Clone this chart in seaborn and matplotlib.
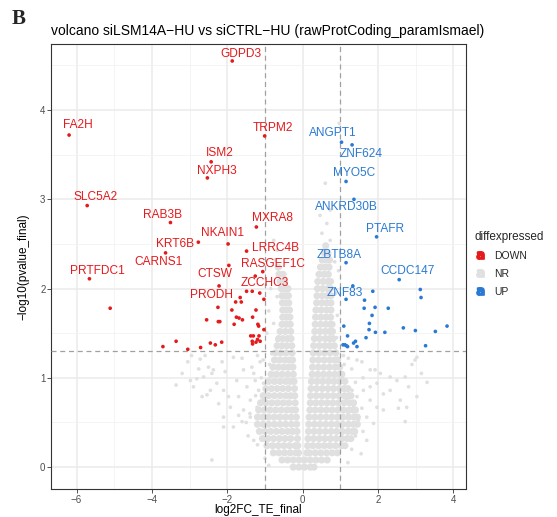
import numpy as np
import pandas as pd
import matplotlib
matplotlib.use("Agg")
import matplotlib.pyplot as plt
import seaborn as sns
from matplotlib.lines import Line2D

# ---------------- data ----------------
down_genes = ["GDPD3", "FA2H", "TRPM2", "ISM2", "NXPH3", "SLC5A2", "RAB3B", "MXRA8",
              "NKAIN1", "KRT6B", "CARNS1", "PRTFDC1", "CTSW", "PRODH", "LRRC4B",
              "RASGEF1C", "ZCCHC3"]
down_gene_x = [-1.87, -6.20, -1.01, -2.43, -2.53, -5.72, -3.51, -1.23, -1.98, -2.77,
               -3.64, -5.66, -1.96, -2.22, -1.49, -1.06, -1.26]
down_gene_y = [4.55, 3.72, 3.71, 3.42, 3.24, 2.93, 2.74, 2.69, 2.50, 2.52, 2.40, 2.11,
               2.26, 2.03, 2.42, 2.19, 2.14]

down_other_x = [-5.11, -1.49, -1.34, -1.14, -1.03, -1.66, -1.78, -1.63, -2.25, -1.88,
                -1.24, -1.76, -1.69, -1.60, -1.33, -2.55, -2.24, -2.20, -1.82, -1.19,
                -1.17, -1.03, -1.38, -1.31, -1.16, -1.20, -1.34, -1.33, -1.24, -1.13,
                -3.36, -3.71, -3.05, -2.71, -2.45, -2.32, -2.15]
down_other_y = [1.78, 1.97, 1.97, 1.95, 1.88, 1.90, 1.85, 1.85, 1.79, 1.76,
                1.76, 1.68, 1.67, 1.65, 1.68, 1.65, 1.63, 1.63, 1.60, 1.60,
                1.58, 1.54, 1.47, 1.47, 1.47, 1.43, 1.41, 1.38, 1.40, 1.41,
                1.41, 1.35, 1.32, 1.34, 1.39, 1.37, 1.40]

up_genes = ["ANGPT1", "ZNF624", "MYO5C", "ANKRD30B", "PTAFR", "ZBTB8A", "CCDC147", "ZNF83"]
up_gene_x = [1.03, 1.31, 1.15, 1.36, 1.96, 1.15, 2.56, 1.15]
up_gene_y = [3.64, 3.61, 3.20, 3.00, 2.58, 2.29, 2.10, 1.88]

up_other_x = [1.33, 1.86, 3.12, 1.64, 3.14, 1.63, 1.92, 2.27, 1.84, 1.09, 1.77, 1.76,
              1.93, 2.18, 2.67, 2.99, 3.52, 3.83, 1.19, 1.68, 1.40, 1.35, 1.44, 1.07,
              1.12, 1.16, 1.19, 3.26]
up_other_y = [2.03, 1.97, 1.99, 1.87, 1.90, 1.78, 1.79, 1.78, 1.70, 1.58, 1.61, 1.54,
              1.51, 1.51, 1.56, 1.53, 1.52, 1.58, 1.47, 1.45, 1.41, 1.39, 1.35, 1.37,
              1.37, 1.36, 1.35, 1.36]

# dense NR core of the volcano (rows of y with estimated x positions)
nr_core_rows = [
    (0.00, [-0.25, -0.10, 0.05, 0.20, 0.30]),
    (0.08, [-0.55, -0.40, -0.25, -0.10, 0.05, 0.20, 0.35, 0.50, 0.65]),
    (0.16, [-0.78, -0.63, -0.48, -0.33, -0.18, -0.11, 0.11, 0.18, 0.33, 0.48, 0.63, 0.78, 0.92]),
    (0.24, [-0.95, -0.80, -0.65, -0.50, -0.35, -0.20, -0.13, 0.13, 0.27, 0.42, 0.57, 0.72, 0.87, 1.02, 1.12]),
    (0.32, [-1.07, -0.92, -0.77, -0.62, -0.47, -0.32, -0.14, 0.14, 0.29, 0.44, 0.59, 0.74, 0.89, 1.04, 1.18, 1.28]),
    (0.40, [-1.15, -1.00, -0.85, -0.70, -0.55, -0.40, -0.27, -0.15, 0.15, 0.30, 0.45, 0.60, 0.75, 0.90, 1.05, 1.20, 1.32, 1.38]),
    (0.48, [-1.20, -1.05, -0.90, -0.75, -0.60, -0.45, -0.30, -0.16, 0.16, 0.31, 0.46, 0.61, 0.76, 0.91, 1.06, 1.21, 1.35, 1.45]),
    (0.56, [-1.20, -1.06, -0.91, -0.76, -0.61, -0.46, -0.31, -0.17, 0.17, 0.32, 0.47, 0.62, 0.77, 0.92, 1.07, 1.22, 1.36, 1.45]),
    (0.64, [-1.17, -1.02, -0.87, -0.72, -0.57, -0.42, -0.29, -0.19, 0.19, 0.33, 0.48, 0.63, 0.78, 0.93, 1.08, 1.23, 1.35, 1.40]),
    (0.72, [-1.12, -0.97, -0.82, -0.67, -0.52, -0.37, -0.20, 0.20, 0.35, 0.50, 0.65, 0.80, 0.95, 1.10, 1.25, 1.35]),
    (0.80, [-1.05, -0.90, -0.75, -0.60, -0.45, -0.32, -0.21, 0.21, 0.36, 0.51, 0.66, 0.81, 0.96, 1.11, 1.22, 1.28]),
    (0.88, [-0.98, -0.83, -0.68, -0.53, -0.38, -0.22, 0.22, 0.37, 0.52, 0.67, 0.82, 0.97, 1.10, 1.20]),
    (0.96, [-0.90, -0.75, -0.60, -0.45, -0.33, -0.23, 0.23, 0.38, 0.53, 0.68, 0.83, 0.98, 1.12]),
    (1.04, [-0.84, -0.70, -0.55, -0.40, -0.25, 0.25, 0.40, 0.55, 0.70, 0.85, 0.98, 1.04]),
    (1.12, [-0.79, -0.65, -0.51, -0.38, -0.26, 0.26, 0.41, 0.56, 0.71, 0.86, 0.98]),
    (1.20, [-0.75, -0.61, -0.47, -0.35, -0.27, 0.27, 0.42, 0.57, 0.72, 0.85, 0.93]),
    (1.28, [-0.72, -0.58, -0.44, -0.28, 0.28, 0.43, 0.58, 0.73, 0.88]),
    (1.36, [-0.68, -0.55, -0.42, -0.29, 0.29, 0.44, 0.59, 0.72, 0.84]),
    (1.44, [-0.64, -0.52, -0.40, -0.31, 0.31, 0.45, 0.60, 0.72, 0.81]),
    (1.52, [-0.60, -0.46, -0.32, 0.32, 0.46, 0.60, 0.72, 0.79]),
    (1.60, [-0.55, -0.44, -0.33, 0.33, 0.47, 0.61, 0.73, 0.78]),
    (1.68, [-0.53, -0.43, -0.34, 0.34, 0.48, 0.62, 0.74]),
    (1.76, [-0.53, -0.44, -0.35, 0.35, 0.49, 0.63, 0.75]),
    (1.84, [-0.54, -0.45, -0.37, 0.37, 0.51, 0.64, 0.75]),
    (1.92, [-0.55, -0.46, -0.38, 0.38, 0.52, 0.65, 0.75]),
    (2.00, [-0.57, -0.47, -0.39, 0.39, 0.53, 0.66, 0.74]),
    (2.08, [-0.60, -0.48, 0.40, 0.54, 0.67, 0.74]),
    (2.16, [-0.63, -0.52, 0.43, 0.56, 0.68]),
    (2.24, [-0.65, 0.47, 0.59, 0.70]),
    (2.32, [0.52, 0.63, 0.71]),
    (2.40, [0.57, 0.67]),
    (2.48, [0.61]),
]

# scattered NR points around the core
nr_sparse_x = [-2.72, -2.59, -2.50, -2.37, -2.14, -2.06, -1.84, -1.61, -1.57, -1.35, -1.13,
               -2.90, -2.81, -2.98, -2.67, -2.45, -2.28, -2.10, -1.97, -1.75, -1.48, -1.26,
               -1.17, -1.04, -2.23, -1.92, -1.70, -1.57, -1.39, -1.21, -2.10, -1.84, -1.61,
               -1.39, -2.10, -2.41, -3.36, -2.76, -2.63, -2.41, -2.54,
               -1.20, -1.05, -1.30, -1.10, -1.25, -1.05, -1.40, -1.50, -1.70, -1.30, -1.20,
               -1.45, -1.00, -0.90, -3.05, -3.20, -2.95,
               -0.77, -0.68, -0.73, -0.60, -0.68, -0.77, -0.68, -0.82, -0.85, -0.90, -0.95,
               -0.88, -0.95,
               1.08, 1.21, 1.44, 1.57, 1.79, 1.92, 2.06, 2.32, 2.50, 2.72, 2.98, 3.03, 2.81,
               3.03, 2.59, 2.76, 2.54, 2.72, 2.32, 2.14, 1.97, 1.79, 1.61, 1.44, 1.31, 1.17,
               1.35, 1.57, 1.79, 1.97, 2.14, 1.70, 1.48, 1.21, 1.88,
               3.15, 3.30, 2.90, 1.10, 1.30, 1.05, 1.60, 1.40, 1.20, 1.60, 1.40, 1.70, 1.30,
               1.55, 1.20,
               0.60, 0.73, 0.46, 0.64, 0.51, 0.73, 0.55, 0.97, 0.88, 0.92, 0.90, 0.95, 0.85]
nr_sparse_y = [1.21, 1.25, 1.12, 1.09, 1.18, 1.07, 1.23, 1.22, 1.09, 1.12, 1.18,
               0.90, 0.99, 0.97, 0.79, 0.86, 0.94, 0.86, 0.79, 0.97, 0.90, 0.97,
               0.86, 0.94, 0.71, 0.67, 0.79, 0.64, 0.75, 0.67, 0.45, 0.45, 0.51,
               0.56, 0.56, 0.08, 0.92, 1.10, 1.01, 1.05, 0.81,
               1.25, 1.20, 1.05, 1.00, 0.80, 0.75, 0.60, 0.50, 0.58, 0.30, 0.25,
               0.35, 0.10, 0.02, 1.18, 1.05, 1.25,
               2.54, 2.43, 2.32, 2.24, 1.91, 1.61, 1.42, 1.27, 2.00, 1.75, 1.50,
               1.15, 0.95,
               1.25, 1.22, 1.20, 1.18, 1.09, 1.09, 1.05, 1.01, 0.97, 1.01, 1.20, 1.23, 0.90,
               0.79, 0.75, 0.67, 0.66, 0.51, 0.86, 0.82, 0.94, 0.90, 0.86, 0.79, 0.86, 0.75,
               0.67, 0.66, 0.75, 0.67, 0.64, 0.56, 0.53, 0.49, 0.49,
               1.05, 0.95, 1.15, 1.15, 1.10, 1.00, 1.00, 0.95, 0.60, 0.40, 0.35, 0.30, 0.20,
               0.15, 0.05,
               3.18, 2.88, 2.82, 2.73, 2.62, 2.54, 2.43, 3.85, 1.95, 1.70, 1.45, 2.20, 2.30]

# label positions for the gene names (layout, not data)
label_pos = {
    "GDPD3": (-1.63, 4.63), "FA2H": (-5.97, 3.83), "TRPM2": (-0.79, 3.80),
    "ISM2": (-2.21, 3.52), "NXPH3": (-2.29, 3.32), "SLC5A2": (-5.49, 3.03),
    "RAB3B": (-3.71, 2.83), "MXRA8": (-0.79, 2.79), "NKAIN1": (-2.13, 2.62),
    "KRT6B": (-3.40, 2.50), "LRRC4B": (-0.72, 2.45), "CARNS1": (-3.83, 2.30),
    "RASGEF1C": (-0.80, 2.28), "PRTFDC1": (-5.44, 2.20), "CTSW": (-2.33, 2.16),
    "ZCCHC3": (-1.00, 2.06), "PRODH": (-2.41, 1.93),
    "ANGPT1": (0.80, 3.74), "ZNF624": (1.54, 3.51), "MYO5C": (1.37, 3.29),
    "ANKRD30B": (1.15, 2.91), "PTAFR": (2.18, 2.67), "ZBTB8A": (0.96, 2.38),
    "CCDC147": (2.79, 2.20), "ZNF83": (1.13, 1.95),
}

# ---------------- build tables ----------------
core_x, core_y = [], []
for yy, xs in nr_core_rows:
    core_x += xs
    core_y += [yy] * len(xs)

df_core = pd.DataFrame({"x": core_x, "y": core_y, "diffexpressed": "NR"})
df_sparse = pd.DataFrame({"x": nr_sparse_x, "y": nr_sparse_y, "diffexpressed": "NR"})
df_sig = pd.DataFrame({
    "x": down_gene_x + down_other_x + up_gene_x + up_other_x,
    "y": down_gene_y + down_other_y + up_gene_y + up_other_y,
    "diffexpressed": ["DOWN"] * (len(down_gene_x) + len(down_other_x))
                     + ["UP"] * (len(up_gene_x) + len(up_other_x)),
})

RED = "#E41A1C"
BLUE = "#2A7AD3"
GREY = "#E0E0E0"
palette = {"DOWN": RED, "NR": GREY, "UP": BLUE}

# ---------------- plot ----------------
sns.set_theme(style="white")
plt.rcParams["font.family"] = ["Liberation Sans", "DejaVu Sans"]

W, H = 557, 517
fig = plt.figure(figsize=(W / 100, H / 100), dpi=100)
L, R, T, B = 51, 465.5, 44, 489
ax = fig.add_axes([L / W, 1 - B / H, (R - L) / W, (B - T) / H])

ax.set_xlim(-6.68, 4.32)
ax.set_ylim(-0.245, 4.74)
ax.set_xticks([-6, -4, -2, 0, 2, 4])
ax.set_xticks([-5, -3, -1, 1, 3], minor=True)
ax.set_yticks([0, 1, 2, 3, 4])
ax.set_yticks([0.5, 1.5, 2.5, 3.5, 4.5], minor=True)
ax.grid(which="major", color="#EBEBEB", lw=1.1)
ax.grid(which="minor", color="#F3F3F3", lw=0.6)
ax.set_axisbelow(True)

sns.scatterplot(data=df_core, x="x", y="y", hue="diffexpressed", palette=palette,
                s=26, linewidth=0, ax=ax, legend=False, zorder=2)
sns.scatterplot(data=df_sparse, x="x", y="y", hue="diffexpressed", palette=palette,
                s=7, linewidth=0, ax=ax, legend=False, zorder=2)

ls = (0, (4, 3))
ax.axvline(-1, color="#A0A0A0", lw=0.9, ls=ls, zorder=3)
ax.axvline(1, color="#A0A0A0", lw=0.9, ls=ls, zorder=3)
ax.axhline(-np.log10(0.05), color="#A0A0A0", lw=0.9, ls=ls, zorder=3)

sns.scatterplot(data=df_sig, x="x", y="y", hue="diffexpressed", palette=palette,
                s=7, linewidth=0, ax=ax, legend=False, zorder=4)

for g in down_genes:
    lx, ly = label_pos[g]
    ax.text(lx, ly, g, color=RED, fontsize=8.6, ha="center", va="center", zorder=5)
for g in up_genes:
    lx, ly = label_pos[g]
    ax.text(lx, ly, g, color=BLUE, fontsize=8.6, ha="center", va="center", zorder=5)

for s in ax.spines.values():
    s.set_color("#333333")
    s.set_linewidth(0.8)
ax.tick_params(which="major", length=2.8, width=0.6, color="#333333",
               labelcolor="#4D4D4D", labelsize=7, pad=1.2, bottom=True, left=True)
ax.tick_params(which="minor", length=0)

ax.set_xlabel("log2FC_TE_final", fontsize=8.5, color="black")
ax.set_ylabel("\u2212log10(pvalue_final)", fontsize=8.5, color="black")
ax.xaxis.set_label_coords(0.5, -0.033)
ax.yaxis.set_label_coords(-0.052, 0.5)

fig.text(L / W, 1 - 31 / H,
         "volcano siLSM14A\u2212HU vs siCTRL\u2212HU (rawProtCoding_paramIsmael)",
         fontsize=10.0, ha="left", va="center", color="black")
fig.text(12 / W, 1 - 19 / H, "B", fontsize=15, fontweight="bold",
         family=["Liberation Serif", "DejaVu Serif"], ha="left", va="center")

handles = [Line2D([], [], ls="", marker=r"$\mathbf{a}$", color=palette[k], markersize=5.5)
           for k in ["DOWN", "NR", "UP"]]
leg = ax.legend(handles, ["DOWN", "NR", "UP"], title="diffexpressed",
                loc="upper left", bbox_to_anchor=(470 / W, 1 - 227 / H),
                bbox_transform=fig.transFigure, frameon=False, fontsize=7.5,
                title_fontsize=8.5, handletextpad=0.7, labelspacing=0.75,
                borderaxespad=0, handlelength=1.2)
leg._legend_box.align = "left"

fig.savefig("out.png", dpi=100)
